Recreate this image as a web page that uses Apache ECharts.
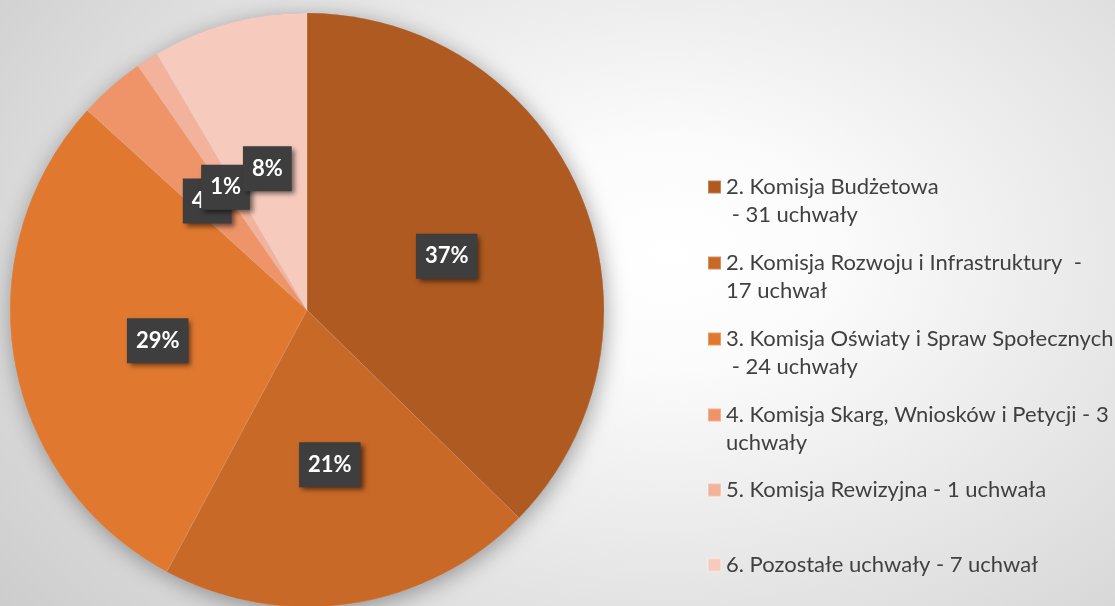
<!DOCTYPE html>
<html>
<head>
<meta charset="utf-8">
<script src="https://cdn.jsdelivr.net/npm/echarts@6/dist/echarts.min.js"></script>
<style>
  html, body { margin: 0; padding: 0; }
  #chart {
    width: 1115px; height: 606px;
    background: radial-gradient(ellipse 75% 95% at 60% 42%, #ffffff 0%, #fbfbfb 20%, #e4e4e4 60%, #cdcdcd 100%);
  }
</style>
</head>
<body>
<div id="chart"></div>
<script>
// uchwały podjęte przez komisje
const categories = [
  '2. Komisja Budżetowa - 31 uchwały',
  '2. Komisja Rozwoju i Infrastruktury - 17 uchwał',
  '3. Komisja Oświaty i Spraw Społecznych - 24 uchwały',
  '4. Komisja Skarg, Wniosków i Petycji - 3 uchwały',
  '5. Komisja Rewizyjna - 1 uchwała',
  '6. Pozostałe uchwały - 7 uchwał'
];
// wiersze legendy (tak jak łamie je oryginał)
const legendLines = [
  ['2. Komisja Budżetowa', ' - 31 uchwały'],
  ['2. Komisja Rozwoju i Infrastruktury  -', '17 uchwał'],
  ['3. Komisja Oświaty i Spraw Społecznych', ' - 24 uchwały'],
  ['4. Komisja Skarg, Wniosków i Petycji - 3', 'uchwały'],
  ['5. Komisja Rewizyjna - 1 uchwała'],
  ['6. Pozostałe uchwały - 7 uchwał']
];
const values = [31, 17, 24, 3, 1, 7];
const colors = ['#ae5a21', '#c96928', '#e0782f', '#ef9468', '#f3b29b', '#f6cbbe'];
const legendTops = [145, 221, 297, 373, 476, 551];

const chart = echarts.init(document.getElementById('chart'));

const pieData = categories.map((name, i) => ({
  name: name,
  value: values[i],
  itemStyle: { color: colors[i] }
}));

// pusta linia na początku -> ikonka wypada na wysokości pierwszego wiersza
const legendText = name => {
  const lines = legendLines[categories.indexOf(name)];
  return lines.length > 1 ? '\n' + lines.join('\n') : lines[0];
};

const legends = categories.map((name, i) => ({
  orient: 'vertical',
  left: 707,
  top: legendTops[i],
  padding: 0,
  itemWidth: 13,
  itemHeight: 13,
  icon: 'rect',
  selectedMode: false,
  data: [name],
  formatter: legendText,
  textStyle: { color: '#404040', fontFamily: 'Lato', fontSize: 22, lineHeight: 28 }
}));

const option = {
  animation: false,
  legend: legends,
  series: [
    {
      // cień pod całym kołem
      type: 'pie',
      silent: true,
      z: 1,
      center: [307, 310],
      radius: [0, 297],
      startAngle: 90,
      label: { show: false },
      labelLine: { show: false },
      data: values.map(v => ({ value: v })),
      itemStyle: {
        color: '#999',
        shadowBlur: 22,
        shadowColor: 'rgba(0,0,0,0.35)',
        shadowOffsetX: 2,
        shadowOffsetY: 4
      }
    },
    {
      type: 'pie',
      z: 2,
      center: [307, 310],
      radius: [0, 297],
      startAngle: 90,
      clockwise: true,
      avoidLabelOverlap: false,
      minShowLabelAngle: 0,
      labelLayout: { hideOverlap: false },
      percentPrecision: 0,
      data: pieData,
      itemStyle: { borderWidth: 0.5, borderColor: 'rgba(255,255,255,0.25)' },
      label: {
        show: true,
        position: 'inside',
        offset: [0, 5],
        formatter: p => p.percent + '%',
        color: '#ffffff',
        fontFamily: 'Lato',
        fontWeight: 'bold',
        fontSize: 22,
        backgroundColor: '#3e3e3e',
        padding: [13, 9, 10, 9],
        shadowBlur: 5,
        shadowColor: 'rgba(0,0,0,0.55)',
        shadowOffsetX: 3,
        shadowOffsetY: 3
      },
      labelLine: { show: false },
      emphasis: { disabled: true }
    }
  ]
};

chart.setOption(option);
</script>
</body>
</html>
